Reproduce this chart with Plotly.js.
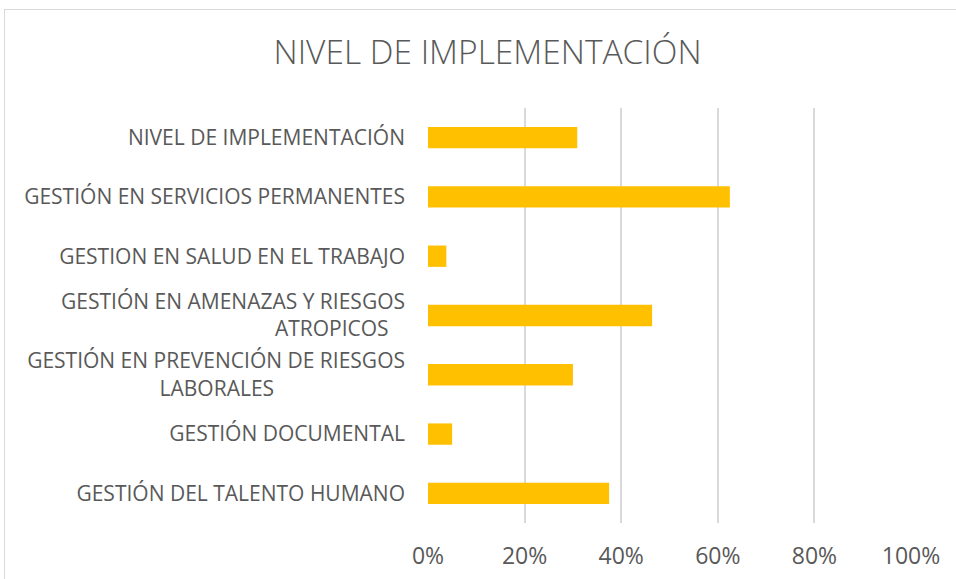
<!DOCTYPE html>
<html>
<head>
<meta charset="utf-8">
<script src="https://cdn.plot.ly/plotly-3.0.1.min.js"></script>
<style>
  html, body { margin: 0; padding: 0; background: #ffffff; }
  #chart { width: 956px; height: 579px; position: absolute; left: 0; top: 0; }
  #frame { position: absolute; left: 4px; top: 9px; width: 960px; height: 600px;
           border: 1px solid #d9d9d9; pointer-events: none; box-sizing: border-box; }
</style>
</head>
<body>
<div id="chart"></div>
<div id="frame"></div>
<script>
const categories = [
  "NIVEL DE IMPLEMENTACIÓN",
  "GESTIÓN EN SERVICIOS PERMANENTES",
  "GESTION EN SALUD EN EL TRABAJO",
  "GESTIÓN EN AMENAZAS Y RIESGOS<br>ATROPICOS",
  "GESTIÓN EN PREVENCIÓN DE RIESGOS<br>LABORALES",
  "GESTIÓN DOCUMENTAL",
  "GESTIÓN DEL TALENTO HUMANO"
];
const values = [0.309, 0.625, 0.038, 0.464, 0.300, 0.050, 0.375];
const tickVals = [0, 0.2, 0.4, 0.6, 0.8, 1.0];
const tickText = ["0%", "20%", "40%", "60%", "80%", "100%"];

// label display: second lines of wrapped labels are centred under the first line
const categoryLabels = [
  "NIVEL DE IMPLEMENTACIÓN",
  "GESTIÓN EN SERVICIOS PERMANENTES",
  "GESTION EN SALUD EN EL TRABAJO",
  "GESTIÓN EN AMENAZAS Y RIESGOS<br>ATROPICOS\u00a0\u00a0\u00a0",
  "GESTIÓN EN PREVENCIÓN DE RIESGOS<br>LABORALES\u00a0\u00a0\u00a0\u00a0\u00a0\u00a0\u00a0\u00a0\u00a0\u00a0\u00a0\u00a0\u00a0\u00a0\u00a0\u00a0\u00a0\u00a0\u00a0\u00a0\u00a0\u00a0\u00a0\u00a0",
  "GESTIÓN DOCUMENTAL",
  "GESTIÓN DEL TALENTO HUMANO"
];

const font = "Open Sans, Noto Sans, sans-serif";
const textColor = "#595959";

Plotly.newPlot("chart", [{
  type: "bar",
  orientation: "h",
  x: values,
  y: categories,
  marker: { color: "#FFC000" },
  width: 0.36,
  hoverinfo: "skip"
}], {
  width: 956,
  height: 579,
  margin: { l: 428, r: 44.5, t: 108, b: 56, pad: 0 },
  paper_bgcolor: "#ffffff",
  plot_bgcolor: "#ffffff",
  showlegend: false,
  title: {
    text: "NIVEL DE IMPLEMENTACIÓN",
    font: { family: font, size: 33.5, color: textColor, weight: 300 },
    x: 0.51, xanchor: "center",
    y: 0.91, yanchor: "middle"
  },
  xaxis: {
    range: [0, 1],
    tickvals: tickVals,
    ticktext: tickText,
    showgrid: true,
    gridcolor: "#d9d9d9",
    gridwidth: 2,
    zeroline: false,
    showline: false,
    ticks: "",
    ticklabelstandoff: 17,
    tickfont: { family: font, size: 23, color: textColor }
  },
  yaxis: {
    type: "category",
    autorange: "reversed",
    tickvals: categories,
    ticktext: categoryLabels,
    showgrid: false,
    zeroline: false,
    showline: false,
    ticks: "",
    ticklabelstandoff: 22,
    tickfont: { family: font, size: 21, color: textColor }
  }
}, { displayModeBar: false, staticPlot: true });
</script>
</body>
</html>
